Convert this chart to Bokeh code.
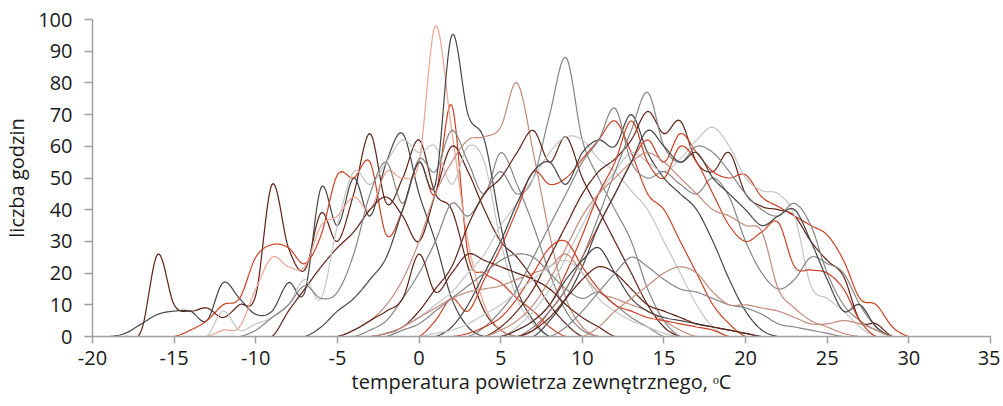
import numpy as np
from bokeh.plotting import figure
from bokeh.models import FixedTicker
from bokeh.embed import file_html
from bokeh.resources import INLINE

# ---------------- data ----------------
temps = list(range(-20, 36))
x_ticks = list(range(-20, 36, 5))
y_ticks = list(range(0, 101, 10))
x_title = "temperatura powietrza zewnętrznego, ᵒC"
y_title = "liczba godzin"

# each series: first temperature where the curve leaves zero, then hours per 1 degC
s01 = [0, 2, 26, 10, 8, 9, 6, 10, 13, 48, 28, 21, 39, 30, 45, 64, 42, 50, 62, 45, 40, 22, 8, 2, 0]
s02 = [0, 1, 4, 7, 8, 8, 5, 17, 12, 7, 8, 17, 14, 47, 35, 50, 38, 55, 64, 45, 30, 12, 3, 0]
s03 = [0, 2, 5, 10, 12, 25, 29, 28, 23, 32, 51, 50, 55, 32, 40, 55, 45, 73, 26, 20, 17, 12, 8, 3, 0]
s04 = [0, 2, 3, 15, 25, 22, 22, 35, 38, 44, 40, 52, 50, 55, 98, 65, 30, 10, 2, 0]
s05 = [0, 0, 8, 15, 22, 28, 33, 40, 44, 38, 30, 45, 60, 52, 40, 30, 25, 18, 10, 4, 0]
s06 = [0, 8, 2, 4, 6, 10, 18, 12, 35, 52, 48, 55, 62, 58, 60, 48, 60, 55, 30, 12, 4, 0]
s07 = [0, 2, 6, 10, 16, 12, 14, 26, 45, 55, 42, 56, 52, 65, 55, 45, 58, 48, 35, 20, 8, 2, 0]
s08 = [0, 3, 8, 12, 18, 25, 40, 55, 48, 95, 70, 62, 35, 15, 5, 0]
s09 = [0, 2, 5, 10, 18, 30, 45, 55, 62, 63, 66, 80, 58, 32, 12, 3, 0]
s10 = [0, 2, 5, 12, 20, 30, 42, 38, 45, 52, 45, 50, 70, 88, 62, 50, 40, 30, 15, 5, 0]
s11 = [0, 1, 3, 8, 15, 22, 35, 45, 50, 58, 65, 55, 63, 50, 40, 30, 20, 10, 3, 0]
s12 = [0, 3, 6, 10, 14, 20, 26, 35, 42, 50, 58, 63, 62, 56, 52, 46, 40, 30, 20, 10, 3, 0]
s13 = [0, 5, 12, 8, 18, 28, 40, 52, 48, 50, 56, 62, 68, 58, 45, 40, 30, 20, 10, 4, 0]
s14 = [0, 3, 10, 20, 30, 42, 52, 55, 48, 58, 62, 60, 70, 58, 50, 45, 40, 30, 18, 8, 2, 0]
s15 = [0, 3, 8, 15, 25, 35, 45, 52, 56, 62, 71, 64, 68, 55, 52, 58, 45, 41, 40, 38, 30, 24, 19, 5, 4, 0]
s16 = [0, 2, 8, 15, 25, 35, 45, 55, 62, 55, 64, 58, 52, 50, 51, 44, 41, 38, 35, 32, 24, 12, 10, 3, 0]
s17 = [0, 3, 8, 15, 25, 35, 45, 52, 58, 55, 52, 56, 62, 66, 60, 50, 46, 45, 38, 16, 12, 8, 3, 0]
s18 = [0, 3, 8, 15, 25, 35, 45, 55, 62, 72, 55, 50, 52, 48, 45, 50, 44, 30, 20, 15, 18, 25, 23, 20, 10, 3, 0]
s19 = [0, 3, 8, 15, 25, 38, 52, 65, 77, 60, 55, 60, 58, 52, 45, 40, 38, 42, 35, 20, 10, 5, 2, 0]
s20 = [0, 2, 5, 10, 20, 32, 45, 55, 68, 55, 50, 60, 55, 45, 35, 30, 33, 36, 22, 21, 20, 15, 5, 0]
s21 = [0, 2, 5, 10, 18, 28, 38, 45, 50, 55, 58, 55, 50, 45, 40, 38, 35, 33, 15, 9, 5, 3, 1, 0]
s22 = [0, 5, 12, 22, 35, 45, 55, 65, 60, 55, 58, 50, 45, 40, 35, 38, 40, 30, 18, 8, 10, 3, 0]
s23 = [0, 2, 5, 8, 12, 26, 14, 20, 26, 24, 22, 20, 18, 15, 10, 6, 3, 0]
s24 = [0, 2, 4, 8, 12, 16, 20, 24, 26, 25, 20, 15, 12, 14, 10, 6, 3, 0]
s25 = [0, 1, 3, 6, 9, 12, 14, 15, 16, 18, 20, 22, 26, 20, 14, 12, 10, 8, 5, 2, 0]
s26 = [0, 1, 3, 6, 12, 20, 28, 30, 22, 15, 10, 8, 6, 5, 4, 3, 2, 0]
s27 = [0, 1, 2, 4, 7, 10, 14, 18, 22, 24, 20, 12, 8, 5, 3, 1, 0]
s28 = [0, 2, 5, 10, 18, 24, 28, 20, 12, 8, 6, 5, 4, 3, 2, 1, 0]
s29 = [0, 2, 6, 12, 18, 22, 20, 15, 10, 8, 6, 4, 3, 2, 1, 0]
s30 = [0, 3, 8, 14, 20, 25, 22, 18, 15, 14, 12, 10, 9, 7, 4, 3, 2, 1, 0]
s31 = [0, 3, 8, 12, 16, 20, 22, 20, 14, 10, 10, 9, 8, 6, 4, 4, 5, 4, 2, 0]

series = [s01, s02, s03, s04, s05, s06, s07, s08, s09, s10, s11, s12, s13, s14, s15, s16,
          s17, s18, s19, s20, s21, s22, s23, s24, s25, s26, s27, s28, s29, s30, s31]
starts = [-18, -19, -15, -13, -10, -13, -11, -7, -5, -4, -3, -2, 0, 1, 4, 6,
          5, 3, 6, 5, 4, 7, -5, -2, -3, 2, 0, 5, 6, 8, 10]

# ---------------- style ----------------
MAROON = "#5e2216"
RED = "#cc4026"
SALMON = "#eda390"
ROSY = "#c38a7b"
DGRAY = "#454545"
GRAY = "#858585"
LGRAY = "#c4c4c4"
colors = [MAROON, DGRAY, RED, SALMON, MAROON, LGRAY, GRAY, DGRAY, ROSY, GRAY, MAROON, LGRAY,
          RED, DGRAY, MAROON, RED, LGRAY, GRAY, GRAY, RED, ROSY, DGRAY, MAROON, GRAY,
          ROSY, RED, LGRAY, DGRAY, MAROON, GRAY, ROSY]
FONT = "Open Sans"
TXT = "#1a1a1a"


def full_series(start, vals):
    y = np.zeros(len(temps))
    i0 = temps.index(start)
    y[i0:i0 + len(vals)] = vals
    return y


def smooth(x, y, n=12):
    """Bezier smoothing through every data point (like a spreadsheet 'smoothed line')."""
    x = np.asarray(x, float)
    y = np.asarray(y, float)
    px = np.concatenate([[x[0]], x, [x[-1]]])
    py = np.concatenate([[y[0]], y, [y[-1]]])
    xs, ys = [], []
    t = np.linspace(0, 1, n, endpoint=False)
    for i in range(1, len(px) - 2):
        p0x, p1x, p2x, p3x = px[i - 1], px[i], px[i + 1], px[i + 2]
        p0y, p1y, p2y, p3y = py[i - 1], py[i], py[i + 1], py[i + 2]
        c1x, c1y = p1x + (p2x - p0x) / 6, p1y + (p2y - p0y) / 6
        c2x, c2y = p2x - (p3x - p1x) / 6, p2y - (p3y - p1y) / 6
        b0 = (1 - t) ** 3
        b1 = 3 * (1 - t) ** 2 * t
        b2 = 3 * (1 - t) * t ** 2
        b3 = t ** 3
        xs.extend(b0 * p1x + b1 * c1x + b2 * c2x + b3 * p2x)
        ys.extend(b0 * p1y + b1 * c1y + b2 * c2y + b3 * p2y)
    xs.append(x[-1])
    ys.append(y[-1])
    return xs, ys


p = figure(width=1000, height=404, x_range=(-20, 35), y_range=(0, 100),
           output_backend="svg", toolbar_location=None,
           min_border_left=90, min_border_right=10, min_border_top=19, min_border_bottom=68)
p.outline_line_color = None
p.grid.visible = False
p.background_fill_color = "white"

for vals, st, col in zip(series, starts, colors):
    xs, ys = smooth(temps, full_series(st, vals))
    p.line(xs, ys, line_color=col, line_width=1.2)

for ax in (p.xaxis[0], p.yaxis[0]):
    ax.axis_line_color = "#a0a0a0"
    ax.axis_line_width = 1.5
    ax.major_tick_line_color = "#a0a0a0"
    ax.major_tick_line_width = 1.5
    ax.major_tick_in = 0
    ax.minor_tick_line_color = None
    ax.major_label_text_font = FONT
    ax.major_label_text_font_size = "20px"
    ax.major_label_text_color = TXT
    ax.axis_label_text_font = FONT
    ax.axis_label_text_font_size = "20px"
    ax.axis_label_text_font_style = "normal"
    ax.axis_label_text_color = TXT

p.xaxis.ticker = FixedTicker(ticks=x_ticks)
p.yaxis.ticker = FixedTicker(ticks=y_ticks)
p.xaxis.major_label_overrides = {t: str(t) for t in x_ticks}
p.xaxis.major_tick_out = 7
p.yaxis.major_tick_out = 8
p.xaxis.major_label_standoff = 7
p.yaxis.major_label_standoff = 12
p.xaxis.axis_label = x_title
p.xaxis.axis_label_standoff = 0
p.yaxis.axis_label = y_title
p.yaxis.axis_label_standoff = 5

open("out.html", "w").write(file_html(p, INLINE))
